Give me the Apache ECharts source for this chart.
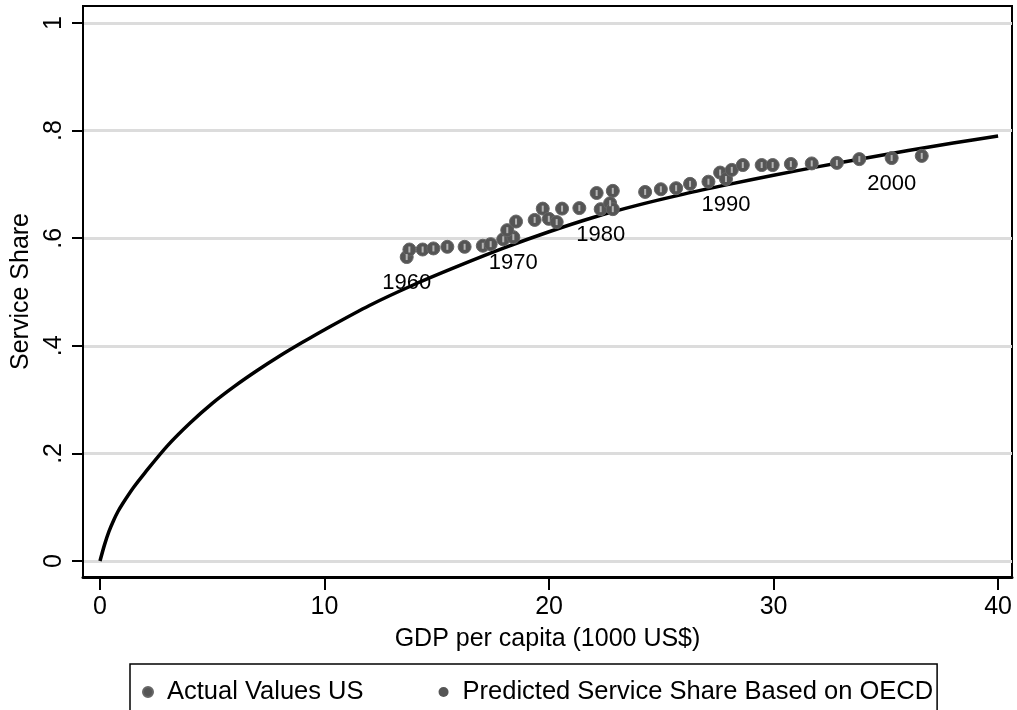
<!DOCTYPE html>
<html>
<head>
<meta charset="utf-8">
<script src="https://cdn.jsdelivr.net/npm/echarts@6/dist/echarts.min.js"></script>
<style>
html, body { margin: 0; padding: 0; background: #fff; }
#curve { width: 1017px; height: 710px; }
</style>
</head>
<body>
<div id="curve"></div>
<script>
// 坐标轴刻度
var xTicks = [0, 10, 20, 30, 40];
var yTicks = [0, 0.2, 0.4, 0.6, 0.8, 1];
var yTickLabels = ['0', '.2', '.4', '.6', '.8', '1'];

// 拟合曲线
var curveX = [0, 0.2, 0.4, 0.6, 0.8, 1, 1.5, 2, 3, 4, 5, 6, 7, 8, 9, 10, 12, 14, 16, 18, 20,
    22, 24, 26, 28, 30, 32, 34, 36, 38, 40];
var curveY = [0, 0.03, 0.055, 0.075, 0.092, 0.106, 0.137, 0.164, 0.214, 0.256, 0.293, 0.325, 0.354, 0.381, 0.406, 0.43, 0.475, 0.514, 0.549, 0.582, 0.612,
    0.639, 0.662, 0.682, 0.700, 0.717, 0.733, 0.748, 0.763, 0.777, 0.79];

// 美国实际值
var gdp = [13.66, 13.78, 14.37, 14.85, 15.47, 16.24, 17.05, 17.40, 17.96, 18.41,
    18.14, 18.53, 19.36, 19.72, 19.99, 20.34, 20.58, 21.35, 22.12, 22.84,
    22.30, 22.72, 22.84, 24.28, 24.98, 25.66, 26.28, 27.10, 27.62, 27.88,
    28.14, 28.63, 29.47, 29.96, 30.77, 31.70, 32.82, 33.82, 35.26, 36.60];
var share = [0.565, 0.579, 0.579, 0.581, 0.584, 0.584, 0.586, 0.589, 0.598, 0.602,
    0.615, 0.631, 0.634, 0.655, 0.636, 0.630, 0.655, 0.656, 0.684, 0.688,
    0.654, 0.665, 0.654, 0.686, 0.691, 0.693, 0.701, 0.705, 0.722, 0.710,
    0.727, 0.736, 0.736, 0.736, 0.738, 0.739, 0.740, 0.747, 0.749, 0.753];

// 年份标注 (点的序号 -> 年份)
var yearIndex = [0, 9, 20, 29, 38];
var yearText = ['1960', '1970', '1980', '1990', '2000'];

var myChart = echarts.init(document.getElementById('curve'));
var option;

function pairs(xs, ys) {
    var out = [];
    for (var i = 0; i < xs.length; i++) {
        out.push([xs[i], ys[i]]);
    }
    return out;
}

function actualData() {
    var out = pairs(gdp, share);
    for (var i = 0; i < yearIndex.length; i++) {
        var k = yearIndex[i];
        out[k] = {
            value: out[k],
            label: { show: true, formatter: yearText[i], color: '#000' }
        };
    }
    return out;
}

var fontName = '"Liberation Sans", Arial, sans-serif';

option = {
    backgroundColor: '#fff',
    animation: false,
    textStyle: { fontFamily: fontName },
    grid: {
        left: 83,
        right: 5,
        top: 6,
        bottom: 133,
        containLabel: false,
        outerBoundsMode: 'none',
        show: true,
        borderColor: '#000',
        borderWidth: 2,
        backgroundColor: '#fff'
    },
    legend: {
        left: 130,
        top: 664,
        padding: [15, 4, 30, 12],
        borderColor: '#000',
        borderWidth: 1.5,
        itemGap: 75,
        itemWidth: 28,
        itemHeight: 10,
        textStyle: { fontSize: 25.5, color: '#000', fontFamily: fontName },
        data: [
            { name: 'Actual Values US', icon: 'circle' },
            { name: 'Predicted Service Share Based on OECD', icon: 'circle', itemStyle: { color: '#555' } }
        ]
    },
    xAxis: {
        type: 'value',
        min: -0.757,
        max: 40.62,
        name: 'GDP per capita (1000 US$)',
        nameLocation: 'middle',
        nameGap: 50,
        nameTextStyle: { fontSize: 25, color: '#000' },
        axisLine: { show: true, onZero: false, lineStyle: { color: '#000', width: 3 } },
        axisTick: { show: true, length: 13, customValues: xTicks, lineStyle: { color: '#000', width: 2 } },
        axisLabel: { customValues: xTicks, fontSize: 25, color: '#000', margin: 18 },
        splitLine: { show: false }
    },
    yAxis: {
        type: 'value',
        min: -0.0297,
        max: 1.0316,
        name: 'Service Share',
        nameLocation: 'middle',
        nameRotate: 90,
        nameGap: 46,
        nameTextStyle: { fontSize: 25, color: '#000' },
        axisLine: { show: true, onZero: false, lineStyle: { color: '#000', width: 2 } },
        axisTick: { show: true, length: 11, customValues: yTicks, lineStyle: { color: '#000', width: 2 } },
        axisLabel: {
            customValues: yTicks,
            rotate: 90,
            fontSize: 25,
            color: '#000',
            margin: 16,
            formatter: function (v) {
                var i = yTicks.indexOf(Math.round(v * 10) / 10);
                return i >= 0 ? yTickLabels[i] : '';
            }
        },
        splitLine: { show: true, lineStyle: { color: '#dcdcdc', width: 3 } }
    },
    series: [
        {
            name: 'fit',
            type: 'line',
            data: pairs(curveX, curveY),
            smooth: 0.3,
            showSymbol: false,
            lineStyle: { color: '#000', width: 3.5 },
            z: 2
        },
        {
            name: 'Actual Values US',
            type: 'scatter',
            data: actualData(),
            symbol: 'circle',
            symbolSize: 13,
            itemStyle: { color: '#555', borderColor: '#666', borderWidth: 1, opacity: 1 },
            label: {
                show: false,
                position: 'bottom',
                distance: 8,
                fontSize: 22,
                color: '#000'
            },
            z: 3
        },
        {
            name: 'Predicted Service Share Based on OECD',
            type: 'scatter',
            data: pairs(gdp, share),
            symbol: 'rect',
            symbolSize: [2, 6],
            itemStyle: { color: '#b5b5b5', opacity: 1 },
            z: 4
        }
    ]
};

myChart.setOption(option);
</script>
</body>
</html>
